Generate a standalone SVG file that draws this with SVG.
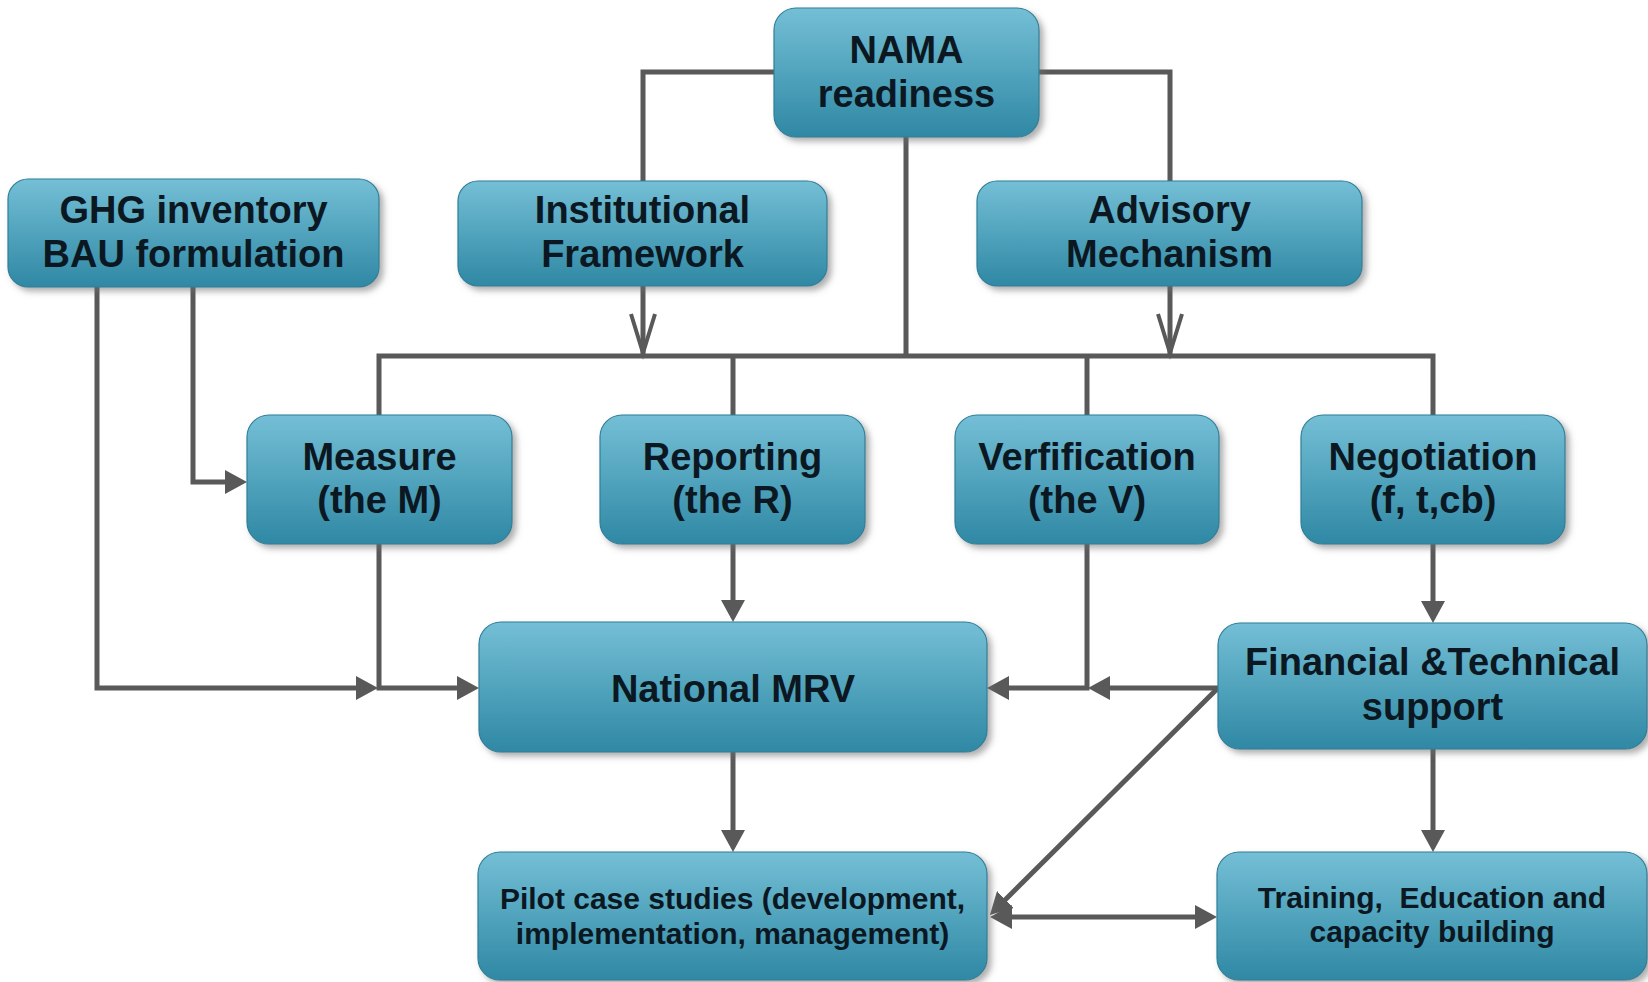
<svg xmlns="http://www.w3.org/2000/svg" width="1648" height="982" viewBox="0 0 1648 982">
<defs>
<linearGradient id="boxfill" x1="0" y1="0" x2="0" y2="1">
<stop offset="0" stop-color="#74bfd6"/>
<stop offset="1" stop-color="#2f88a4"/>
</linearGradient>
<filter id="shadow" x="-10%" y="-10%" width="125%" height="130%">
<feDropShadow dx="4" dy="4" stdDeviation="3" flood-color="#6d6d6d" flood-opacity="0.55"/>
</filter>
<marker id="arrow" viewBox="0 0 22 24" refX="12" refY="12" markerWidth="22" markerHeight="24" markerUnits="userSpaceOnUse" orient="auto-start-reverse">
<path d="M0,0 L22,12 L0,24 Z" fill="#595959"/>
</marker>
<style>
.box{fill:url(#boxfill);stroke:#2f7f98;stroke-width:1.2;filter:url(#shadow)}
.t{font-family:"Liberation Sans",Arial,sans-serif;font-weight:bold;font-size:38px;fill:#0b1822;text-anchor:middle}
.s{font-size:30px}
.c{fill:none;stroke:#595959;stroke-width:5}
.a{marker-end:url(#arrow)}
.v{fill:none;stroke:#595959;stroke-width:4;stroke-linejoin:miter}
</style>
</defs>
<rect width="1648" height="982" fill="#ffffff"/>

<g id="connectors">
<path class="c" d="M774,72 H643 V181"/>
<path class="c" d="M1039,72 H1170 V181"/>
<path class="c" d="M906,137 V356"/>
<path class="c" d="M643,286 V354"/>
<path class="v" d="M631,314 L643,353 L655,314"/>
<path class="c" d="M1170,286 V354"/>
<path class="v" d="M1158,314 L1170,353 L1182,314"/>
<path class="c" d="M379,415 V356 H1433 V415"/>
<path class="c" d="M733,356 V415"/>
<path class="c" d="M1087,356 V415"/>
<path class="c a" d="M97,287 V688 H368"/>
<path class="c a" d="M193,287 V482 H237"/>
<path class="c a" d="M379,544 V688 H469"/>
<path class="c a" d="M733,544 V612"/>
<path class="c a" d="M1087,544 V688 H997"/>
<path class="c a" d="M1218,688 H1098"/>
<path class="c a" d="M1433,544 V613"/>
<path class="c a" d="M733,752 V842"/>
<path class="c a" d="M1433,749 V842"/>
<path class="c a" d="M1218,688 L997,908"/>
<path class="c a" d="M1000,917 H1207" marker-start="url(#arrow)"/>
</g>

<g id="nama">
<rect class="box" x="774" y="8" width="265" height="129" rx="22"/>
<text class="t" x="906.5" y="63">NAMA</text>
<text class="t" x="906.5" y="107">readiness</text>
</g>

<g id="ghg">
<rect class="box" x="8" y="179" width="371" height="108" rx="20"/>
<text class="t" x="193.5" y="223">GHG inventory</text>
<text class="t" x="193.5" y="267">BAU formulation</text>
</g>

<g id="institutional">
<rect class="box" x="458" y="181" width="369" height="105" rx="20"/>
<text class="t" x="642.5" y="223">Institutional</text>
<text class="t" x="642.5" y="267">Framework</text>
</g>

<g id="advisory">
<rect class="box" x="977" y="181" width="385" height="105" rx="20"/>
<text class="t" x="1169.5" y="223">Advisory</text>
<text class="t" x="1169.5" y="267">Mechanism</text>
</g>

<g id="measure">
<rect class="box" x="247" y="415" width="265" height="129" rx="22"/>
<text class="t" x="379.5" y="470">Measure</text>
<text class="t" x="379.5" y="513">(the M)</text>
</g>

<g id="reporting">
<rect class="box" x="600" y="415" width="265" height="129" rx="22"/>
<text class="t" x="732.5" y="470">Reporting</text>
<text class="t" x="732.5" y="513">(the R)</text>
</g>

<g id="verification">
<rect class="box" x="955" y="415" width="264" height="129" rx="22"/>
<text class="t" x="1087" y="470">Verfification</text>
<text class="t" x="1087" y="513">(the V)</text>
</g>

<g id="negotiation">
<rect class="box" x="1301" y="415" width="264" height="129" rx="22"/>
<text class="t" x="1433" y="470">Negotiation</text>
<text class="t" x="1433" y="513">(f, t,cb)</text>
</g>

<g id="national-mrv">
<rect class="box" x="479" y="622" width="508" height="130" rx="22"/>
<text class="t" x="733" y="702">National MRV</text>
</g>

<g id="financial">
<rect class="box" x="1218" y="623" width="429" height="126" rx="22"/>
<text class="t" x="1432.5" y="675">Financial &amp;Technical</text>
<text class="t" x="1432.5" y="720">support</text>
</g>

<g id="pilot">
<rect class="box" x="478" y="852" width="509" height="128" rx="22"/>
<text class="t s" x="732.5" y="909">Pilot case studies (development,</text>
<text class="t s" x="732.5" y="944">implementation, management)</text>
</g>

<g id="training">
<rect class="box" x="1217" y="852" width="430" height="128" rx="22"/>
<text class="t s" x="1432" y="908" xml:space="preserve">Training,  Education and</text>
<text class="t s" x="1432" y="942">capacity building</text>
</g>
</svg>
